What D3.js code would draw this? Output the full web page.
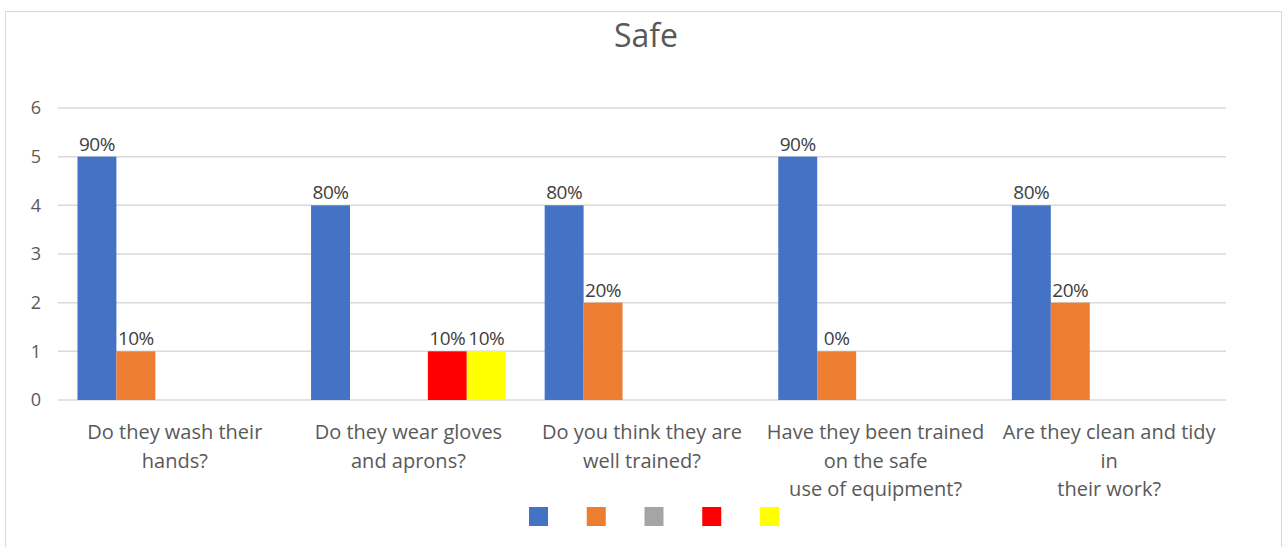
<!DOCTYPE html>
<html><head><meta charset="utf-8">
<script src="https://cdn.jsdelivr.net/npm/d3@7"></script>
<style>html,body{margin:0;padding:0;background:#fff;}svg{display:block;}</style>
</head><body>
<svg id="chart" width="1287" height="547"></svg>
<script>
const title = "Safe";
const categories = [
  ["Do they wash their", "hands?"],
  ["Do they wear gloves", "and aprons?"],
  ["Do you think they are", "well trained?"],
  ["Have they been trained", "on the safe", "use of equipment?"],
  ["Are they clean and tidy", "in", "their work?"]
];
const seriesNames = ["S1", "S2", "S3", "S4", "S5"];
const seriesColors = ["#4472C4", "#ED7D31", "#A5A5A5", "#FF0000", "#FFFF00"];
const blueValues = [5, 4, 4, 5, 4];
const orangeValues = [1, 0, 2, 1, 2];
const grayValues = [0, 0, 0, 0, 0];
const redValues = [0, 1, 0, 0, 0];
const yellowValues = [0, 1, 0, 0, 0];
const blueLabels = ["90%", "80%", "80%", "90%", "80%"];
const orangeLabels = ["10%", null, "20%", "0%", "20%"];
const grayLabels = [null, null, null, null, null];
const redLabels = [null, "10%", null, null, null];
const yellowLabels = [null, "10%", null, null, null];
const yTicks = [0, 1, 2, 3, 4, 5, 6];

const seriesValues = [blueValues, orangeValues, grayValues, redValues, yellowValues];
const seriesLabels = [blueLabels, orangeLabels, grayLabels, redLabels, yellowLabels];

const svg = d3.select("#chart");
const font = "'Open Sans', sans-serif";
const L = 58, R = 1226, T = 108, B = 400;

svg.append("rect").attr("x", 5.5).attr("y", 11.5).attr("width", 1276).attr("height", 545)
  .attr("fill", "#fff").attr("stroke", "#d9d9d9");

svg.append("text").attr("x", 646).attr("y", 47).attr("text-anchor", "middle")
  .attr("font-family", font).attr("font-size", 32).attr("fill", "#595959").text(title);

const y = d3.scaleLinear().domain([0, 6]).range([B, T]);
const x0 = d3.scaleBand().domain(d3.range(categories.length)).range([L, R]);
const bw = x0.bandwidth();
const x1 = d3.scaleBand().domain(d3.range(seriesNames.length)).range([bw / 12, bw * 11 / 12]);

// gridlines
svg.append("g").selectAll("line").data(yTicks).join("line")
  .attr("x1", L).attr("x2", R).attr("y1", d => y(d)).attr("y2", d => y(d))
  .attr("stroke", "#d9d9d9").attr("stroke-width", 1.5);

// y axis labels
const yAxis = d3.axisLeft(y).tickValues(yTicks).tickSize(0).tickPadding(14).tickFormat(d3.format("d"));
const gy = svg.append("g").attr("transform", `translate(${L - 3},0)`).call(yAxis);
gy.select(".domain").remove();
gy.selectAll("text").attr("font-family", font).attr("font-size", 18).attr("fill", "#595959");

// bars
const groups = svg.append("g").selectAll("g").data(categories).join("g")
  .attr("transform", (d, i) => `translate(${x0(i)},0)`);
groups.each(function (c, ci) {
  const g = d3.select(this);
  seriesValues.forEach((vals, si) => {
    const v = vals[ci];
    if (v > 0) {
      g.append("rect").attr("x", x1(si)).attr("y", y(v)).attr("width", x1.bandwidth())
        .attr("height", y(0) - y(v)).attr("fill", seriesColors[si]);
    }
    const lab = seriesLabels[si][ci];
    if (lab) {
      g.append("text").attr("x", x1(si) + x1.bandwidth() / 2).attr("y", y(v) - 6)
        .attr("text-anchor", "middle").attr("font-family", font).attr("font-size", 19)
        .attr("letter-spacing", -0.5)
        .attr("fill", "#404040").text(lab);
    }
  });
});

// category labels
const xAxis = d3.axisBottom(x0).tickSize(0).tickFormat("");
const gx = svg.append("g").attr("transform", `translate(0,${B})`).call(xAxis);
gx.select(".domain").remove();
gx.selectAll(".tick").each(function (d) {
  const t = d3.select(this).append("text").attr("text-anchor", "middle")
    .attr("font-family", font).attr("font-size", 20).attr("fill", "#595959");
  categories[d].forEach((line, li) => {
    t.append("tspan").attr("x", 0).attr("y", 39 + li * 28.5).text(line);
  });
});

// legend
const legX = d3.scalePoint().domain(seriesNames).range([529, 760]);
svg.append("g").selectAll("rect").data(seriesNames).join("rect")
  .attr("x", d => legX(d)).attr("y", 507).attr("width", 19).attr("height", 19)
  .attr("fill", (d, i) => seriesColors[i]);
</script>
</body></html>
